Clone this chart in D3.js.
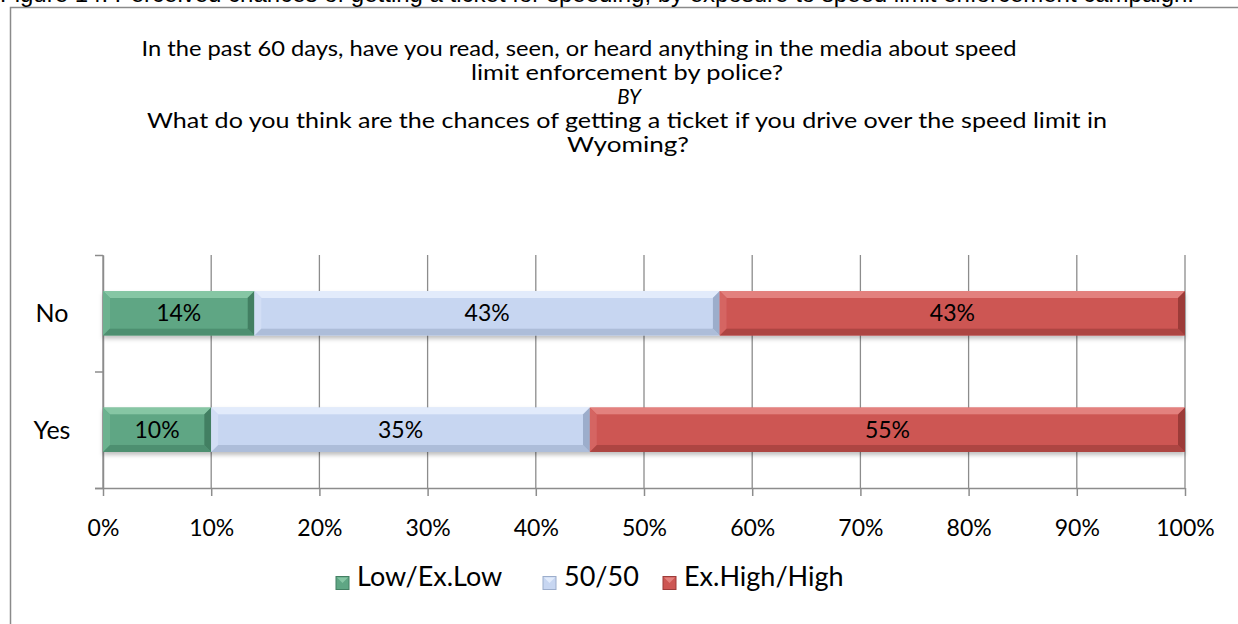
<!DOCTYPE html>
<html>
<head>
<meta charset="utf-8">
<script src="https://cdn.jsdelivr.net/npm/d3@7/dist/d3.min.js"></script>
<style>
  html, body { margin: 0; padding: 0; background: #fff; overflow: hidden; }
  svg { display: block; }
  .chart-text { font-family: Lato, "Open Sans", sans-serif; fill: #000; }
</style>
</head>
<body>
<svg id="chart" width="1238" height="624"></svg>
<script>
// Survey responses: perceived chance of a speeding ticket, split by media exposure
const categories = ["No", "Yes"];
const seriesNames = ["Low/Ex.Low", "50/50", "Ex.High/High"];
const lowExLow   = [14, 10];
const fiftyFifty = [43, 35];
const exHighHigh = [43, 55];
const xTickValues = [0, 10, 20, 30, 40, 50, 60, 70, 80, 90, 100];

const captionText = "Figure 14: Perceived chances of getting a ticket for speeding, by exposure to speed limit enforcement campaign.";
const titleLines = [
  "In the past 60 days, have you read, seen, or heard anything in the media about speed",
  "limit enforcement by police?",
  "BY",
  "What do you think are the chances of getting a ticket if you drive over the speed limit in",
  "Wyoming?"
];

// Title line layout: centre x, set width (null = natural), italic flag
const titleLayout = [
  {cx: 579, width: 875, italic: false},
  {cx: 627, width: 312, italic: false},
  {cx: 629, width: null, italic: true},
  {cx: 627, width: 960, italic: false},
  {cx: 628, width: 122, italic: false}
];

// Fill shades per series: base, highlight (top/left), shade (bottom/right)
const palette = [
  {base: "#5fa684", light: "#86c6a4", lightSide: "#6cb28f", dark: "#4e8f70", darkSide: "#437f62"},
  {base: "#c7d6f1", light: "#e2ebfb", lightSide: "#d2def5", dark: "#adbdd9", darkSide: "#9cadcb"},
  {base: "#cd5653", light: "#e3817e", lightSide: "#d56562", dark: "#ad4543", darkSide: "#9c3b39"}
];

const svg = d3.select("#chart");

const rows = categories.map((c, i) => ({
  category: c,
  "Low/Ex.Low": lowExLow[i],
  "50/50": fiftyFifty[i],
  "Ex.High/High": exHighHigh[i]
}));
const stacked = d3.stack().keys(seriesNames)(rows);

const plot = {left: 103, right: 1185, top: 255, bottom: 488};

const x = d3.scaleLinear().domain([0, 100]).range([plot.left, plot.right]);
const y = d3.scaleBand().domain(categories).range([plot.top, plot.bottom])
  .paddingInner(0.62).paddingOuter(0.31);
const yEdges = d3.scaleLinear().domain([0, categories.length]).range([plot.top, plot.bottom]);

// Drop shadow under the bars
const defs = svg.append("defs");
const shadow = defs.append("filter").attr("id", "barShadow")
  .attr("x", "-5%").attr("y", "-20%").attr("width", "110%").attr("height", "160%");
shadow.append("feDropShadow").attr("dx", 0).attr("dy", 3).attr("stdDeviation", 2.2)
  .attr("flood-color", "#000").attr("flood-opacity", 0.25);

// Chart frame
svg.append("rect")
  .attr("x", 10.5).attr("y", 7.5).attr("width", 1300).attr("height", 700)
  .attr("fill", "#fff").attr("stroke", "#8a8a8a").attr("stroke-width", 1.5);

// Figure caption above the frame
svg.append("text")
  .attr("x", 0).attr("y", 2)
  .style("font-family", "'Liberation Sans', Arial, sans-serif")
  .style("font-size", "24px")
  .attr("fill", "#000")
  .text(captionText);

// Title block
const titleG = svg.append("g");
titleLines.forEach((txt, i) => {
  const lay = titleLayout[i];
  const t = titleG.append("text")
    .attr("class", "chart-text")
    .attr("x", lay.cx).attr("y", 56 + i * 24)
    .attr("text-anchor", "middle")
    .style("font-size", "20.5px")
    .style("font-style", lay.italic ? "italic" : "normal")
    .text(txt);
  if (lay.width) t.attr("textLength", lay.width).attr("lengthAdjust", "spacingAndGlyphs");
});

// Vertical gridlines
svg.append("g")
  .selectAll("line")
  .data(xTickValues)
  .join("line")
  .attr("x1", d => x(d)).attr("x2", d => x(d))
  .attr("y1", plot.top).attr("y2", plot.bottom)
  .attr("stroke", "#8c8c8c").attr("stroke-width", 1.3);

// X axis
const xAxis = svg.append("g")
  .attr("transform", `translate(0,${plot.bottom})`)
  .call(d3.axisBottom(x).tickValues(xTickValues).tickFormat(d => d + "%").tickSize(8).tickSizeOuter(0).tickPadding(24));
xAxis.select(".domain").attr("stroke", "#8c8c8c").attr("stroke-width", 1.5)
  .attr("d", `M${plot.left - 8},0.5H${plot.right}`);
xAxis.selectAll(".tick line").attr("stroke", "#8c8c8c").attr("stroke-width", 1.5);
xAxis.selectAll(".tick text")
  .attr("class", "chart-text")
  .style("font-size", "23px")
  .attr("fill", "#000");

// Y axis with tick marks between categories
const yAxis = svg.append("g")
  .attr("transform", `translate(${plot.left},0)`)
  .call(d3.axisLeft(yEdges).ticks(categories.length).tickFormat("").tickSize(8).tickSizeOuter(0));
yAxis.select(".domain").attr("stroke", "#8c8c8c").attr("stroke-width", 1.5);
yAxis.selectAll(".tick line").attr("stroke", "#8c8c8c").attr("stroke-width", 1.5);

// Category labels
svg.append("g")
  .selectAll("text")
  .data(categories)
  .join("text")
  .attr("class", "chart-text")
  .attr("x", 52)
  .attr("y", d => y(d) + y.bandwidth() / 2)
  .attr("dy", "0.35em")
  .attr("text-anchor", "middle")
  .style("font-size", "25px")
  .text(d => d);

// Bevelled stacked segments
const bevel = 7;
function bevelFaces(x0, y0, w, h) {
  const x1 = x0 + w, y1 = y0 + h, b = Math.min(bevel, w / 2, h / 2);
  return {
    top:    [[x0, y0], [x1, y0], [x1 - b, y0 + b], [x0 + b, y0 + b]],
    bottom: [[x0, y1], [x1, y1], [x1 - b, y1 - b], [x0 + b, y1 - b]],
    left:   [[x0, y0], [x0 + b, y0 + b], [x0 + b, y1 - b], [x0, y1]],
    right:  [[x1, y0], [x1 - b, y0 + b], [x1 - b, y1 - b], [x1, y1]]
  };
}

const barsG = svg.append("g").attr("filter", "url(#barShadow)");
stacked.forEach((layer, si) => {
  const col = palette[si];
  layer.forEach((seg, ci) => {
    const cat = categories[ci];
    const x0 = x(seg[0]), w = x(seg[1]) - x(seg[0]);
    const y0 = y(cat), h = y.bandwidth();
    const g = barsG.append("g");
    g.append("rect").attr("x", x0).attr("y", y0).attr("width", w).attr("height", h).attr("fill", col.base);
    const f = bevelFaces(x0, y0, w, h);
    const line = d3.line();
    g.append("path").attr("d", line(f.top) + "Z").attr("fill", col.light);
    g.append("path").attr("d", line(f.left) + "Z").attr("fill", col.lightSide);
    g.append("path").attr("d", line(f.bottom) + "Z").attr("fill", col.dark);
    g.append("path").attr("d", line(f.right) + "Z").attr("fill", col.darkSide);
    g.append("rect").attr("x", x0 + bevel).attr("y", y0 + bevel)
      .attr("width", Math.max(0, w - 2 * bevel)).attr("height", Math.max(0, h - 2 * bevel))
      .attr("fill", col.base);
  });
});

// Value labels
const labelsG = svg.append("g");
stacked.forEach((layer, si) => {
  layer.forEach((seg, ci) => {
    const cat = categories[ci];
    labelsG.append("text")
      .attr("class", "chart-text")
      .attr("x", (x(seg[0]) + x(seg[1])) / 2)
      .attr("y", y(cat) + y.bandwidth() / 2)
      .attr("dy", "0.35em")
      .attr("text-anchor", "middle")
      .style("font-size", "23px")
      .text((seg[1] - seg[0]) + "%");
  });
});

// Legend
const legendItems = [
  {name: seriesNames[0], x: 336},
  {name: seriesNames[1], x: 543},
  {name: seriesNames[2], x: 663}
];
const legend = svg.append("g").attr("transform", "translate(0,583)");
legendItems.forEach((item, i) => {
  const col = palette[i];
  const s = 13;
  const g = legend.append("g").attr("transform", `translate(${item.x},${-s / 2})`);
  g.append("rect").attr("width", s).attr("height", s).attr("fill", col.base)
    .attr("stroke", col.darkSide).attr("stroke-width", 1);
  g.append("path").attr("d", `M1,1H${s - 1}L${s / 2},${s / 2}Z`).attr("fill", col.light);
  g.append("text")
    .attr("class", "chart-text")
    .attr("x", s + 8).attr("y", 0).attr("dy", "0.36em")
    .style("font-size", "27px")
    .text(item.name);
});
</script>
</body>
</html>
